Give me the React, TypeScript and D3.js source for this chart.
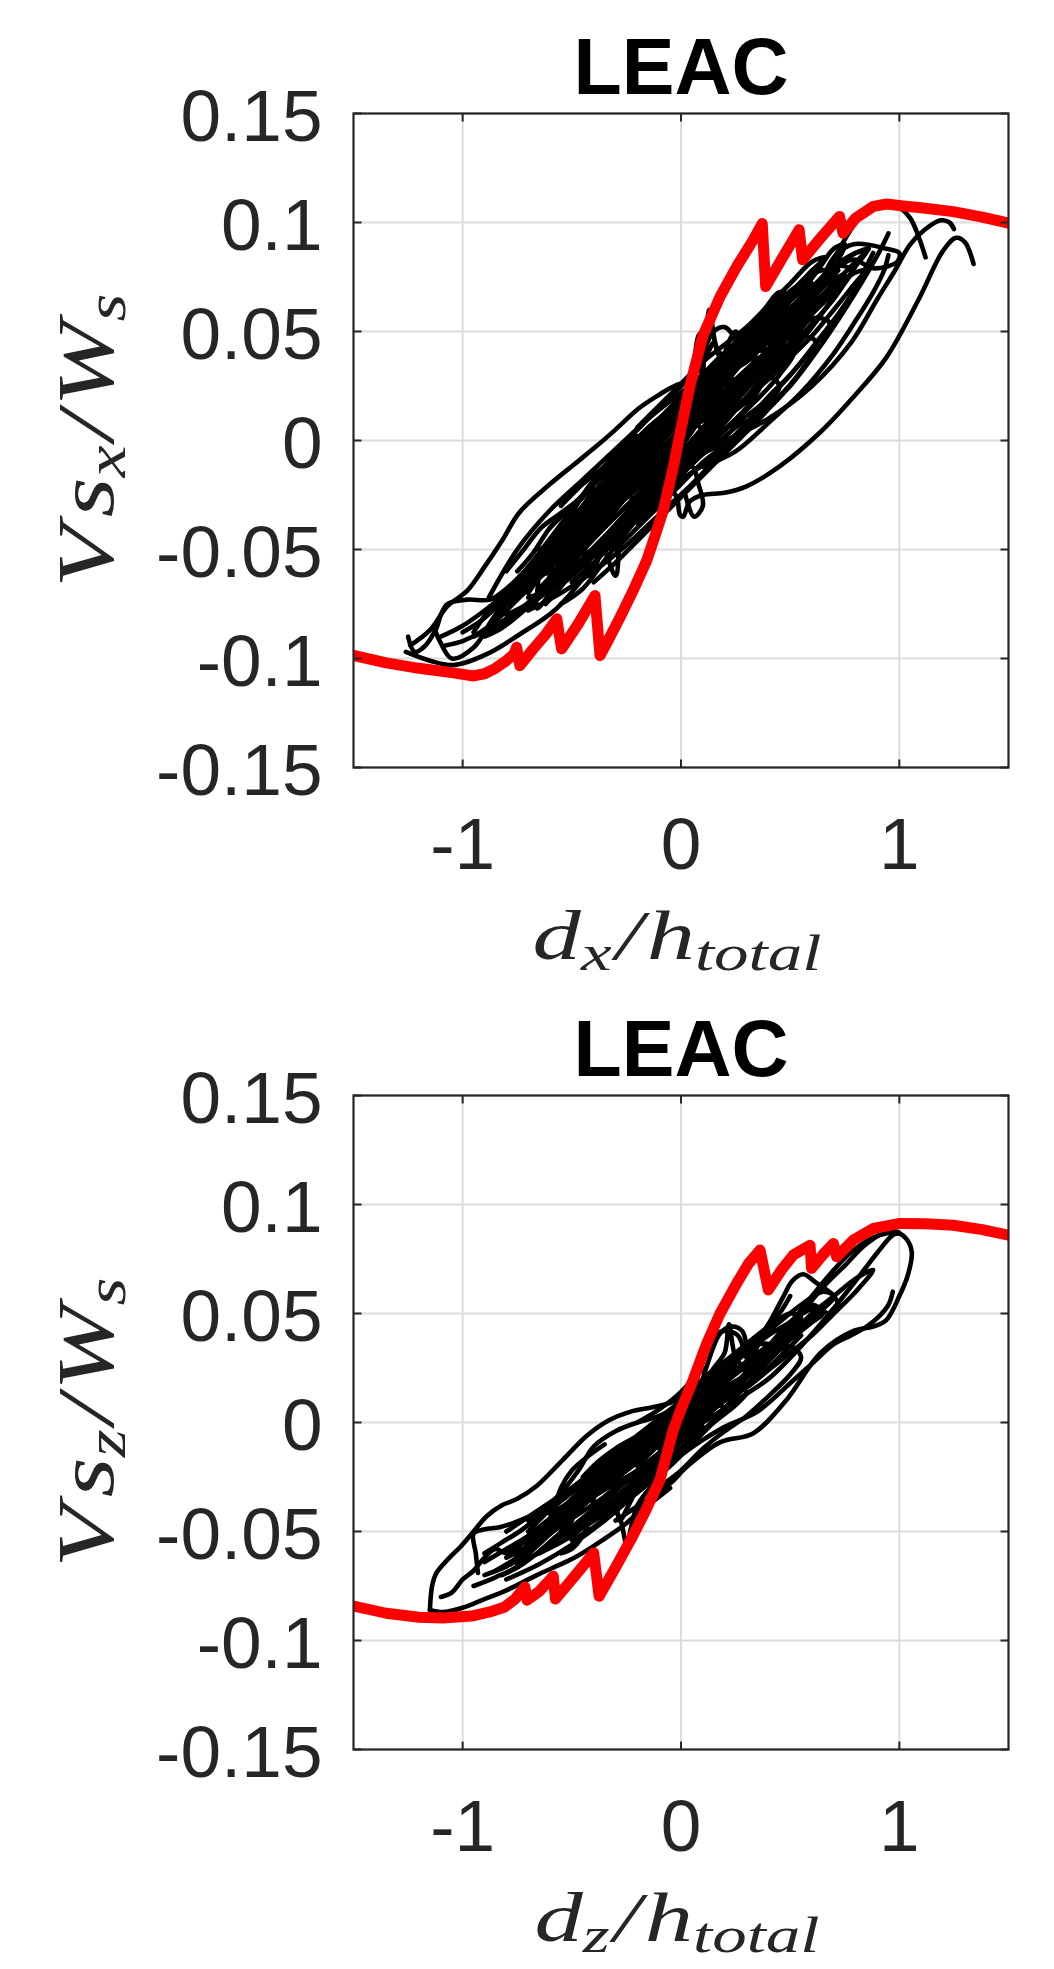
import React from 'react';
import * as d3 from 'd3';

type Pt = [number, number];

// axis setup
const xDomain: [number, number] = [-1.5, 1.5];
const yDomain: [number, number] = [-0.15, 0.15];
const xTicks = [-1, 0, 1];
const yTicks = [-0.15, -0.1, -0.05, 0, 0.05, 0.1, 0.15];
const yTickLabels = ['-0.15', '-0.1', '-0.05', '0', '0.05', '0.1', '0.15'];
const panelTitle = 'LEAC';

// ---- x direction (top panel) ----
const sxBackbone: Pt[] = [
  [-1.5, -0.0986], [-1.35, -0.102], [-1.2, -0.1045], [-1.05, -0.1065], [-0.95, -0.108], [-0.9, -0.107],
  [-0.85, -0.1045], [-0.8, -0.101], [-0.765, -0.098], [-0.753, -0.0948], [-0.738, -0.1033], [-0.68, -0.096],
  [-0.62, -0.089], [-0.569, -0.0818], [-0.547, -0.0956], [-0.47, -0.084], [-0.394, -0.0711], [-0.371, -0.0987],
  [-0.33, -0.091], [-0.279, -0.0811], [-0.22, -0.069], [-0.157, -0.055], [-0.12, -0.044], [-0.081, -0.032],
  [-0.035, -0.0121], [-0.005, 0.003], [0.041, 0.025], [0.1, 0.048], [0.179, 0.066], [0.255, 0.0798],
  [0.331, 0.092], [0.372, 0.0995], [0.388, 0.0706], [0.46, 0.083], [0.541, 0.0967], [0.557, 0.0829],
  [0.64, 0.093], [0.726, 0.1028], [0.742, 0.0951], [0.8, 0.102], [0.881, 0.1074], [0.942, 0.1085],
  [1.018, 0.1076], [1.1, 0.1068], [1.247, 0.105], [1.38, 0.1025], [1.5, 0.0997],
];

const sxLoopA: Pt[] = [
  [-1.24, -0.094], [-1.15, -0.087], [-1.07, -0.076], [-0.98, -0.069], [-0.9, -0.058], [-0.82, -0.046],
  [-0.74, -0.033], [-0.6, -0.02], [-0.49, -0.011], [-0.38, -0.002], [-0.3, 0.005], [-0.19, 0.015],
  [-0.1, 0.021], [-0.03, 0.025], [0.06, 0.028], [0.15, 0.031], [0.3, 0.038], [0.45, 0.05], [0.6, 0.065], [0.72, 0.078],
];
const sxLoopB: Pt[] = [
  [-1.26, -0.097], [-1.15, -0.101], [-1.04, -0.103], [-0.89, -0.098], [-0.74, -0.089], [-0.58, -0.078],
  [-0.43, -0.061], [-0.31, -0.045], [-0.2, -0.033], [-0.13, -0.024], [0.0, -0.013], [0.1, -0.006],
  [0.22, 0.0], [0.35, 0.01], [0.5, 0.025], [0.65, 0.045], [0.8, 0.068], [0.9, 0.085], [0.95, 0.095],
];
const sxLoopC: Pt[] = [
  [-0.2, -0.02], [-0.08, -0.019], [-0.02, -0.026], [-0.005, -0.034], [0.01, -0.035], [0.04, -0.028],
  [0.1, -0.025], [0.2, -0.024], [0.3, -0.021], [0.45, -0.012], [0.64, 0.004], [0.79, 0.02], [0.94, 0.038],
  [1.09, 0.065], [1.2, 0.087], [1.26, 0.093], [1.3, 0.091], [1.34, 0.081],
];
const sxLoopD: Pt[] = [
  [0.2, 0.02], [0.35, 0.035], [0.5, 0.052], [0.62, 0.07], [0.72, 0.087], [0.8, 0.1], [0.88, 0.108],
  [0.95, 0.109], [1.0, 0.107], [1.05, 0.102], [1.09, 0.093], [1.12, 0.084],
];
const sxLoopE: Pt[] = [
  [0.2, 0.0], [0.4, 0.01], [0.6, 0.025], [0.78, 0.045], [0.9, 0.065], [0.98, 0.078], [1.05, 0.09],
  [1.12, 0.097], [1.19, 0.101], [1.23, 0.1], [1.25, 0.097],
];
const sxLoopF: Pt[] = [
  [0.6, 0.062], [0.7, 0.084], [0.79, 0.09], [0.94, 0.088], [1.0, 0.086], [0.99, 0.082], [0.88, 0.079],
  [0.79, 0.083], [0.7, 0.078], [0.62, 0.068],
];
const sxLoopG: Pt[] = [
  [-0.85, -0.085], [-0.7, -0.075], [-0.55, -0.062], [-0.4, -0.045], [-0.25, -0.03], [-0.1, -0.015],
  [0.05, -0.002], [0.2, 0.012], [0.35, 0.03], [0.5, 0.05], [0.6, 0.065], [0.66, 0.078], [0.6, 0.076],
  [0.45, 0.062], [0.3, 0.047], [0.15, 0.033], [0.0, 0.018], [-0.15, 0.003], [-0.3, -0.012], [-0.45, -0.03],
  [-0.6, -0.048], [-0.75, -0.068], [-0.85, -0.082],
];
const sxLoopH: Pt[] = [
  [-0.7, -0.072], [-0.55, -0.066], [-0.42, -0.055], [-0.3, -0.042], [-0.18, -0.028], [-0.05, -0.012],
  [0.1, 0.002], [0.25, 0.018], [0.4, 0.035], [0.48, 0.048], [0.4, 0.05], [0.25, 0.04], [0.1, 0.026],
  [-0.05, 0.012], [-0.2, -0.004], [-0.35, -0.02], [-0.5, -0.04], [-0.62, -0.058], [-0.7, -0.07],
];
const sxLoopI: Pt[] = [
  [-0.62, -0.075], [-0.5, -0.06], [-0.45, -0.045], [-0.42, -0.062], [-0.36, -0.05], [-0.3, -0.062],
  [-0.27, -0.042], [-0.15, -0.025], [0.0, -0.01], [0.12, 0.005], [0.15, 0.03], [0.18, 0.01], [0.3, 0.025],
  [0.4, 0.04], [0.32, 0.045], [0.18, 0.04], [0.13, 0.06], [0.1, 0.035], [0.0, 0.025], [-0.15, 0.01],
  [-0.3, -0.006], [-0.45, -0.025], [-0.55, -0.045], [-0.62, -0.07],
];
const sxLoopJ: Pt[] = [
  [-0.95, -0.09], [-0.8, -0.082], [-0.65, -0.07], [-0.5, -0.055], [-0.35, -0.038], [-0.2, -0.02],
  [-0.05, -0.005], [0.1, 0.01], [0.25, 0.025], [0.38, 0.04], [0.3, 0.042], [0.15, 0.028], [0.0, 0.012],
  [-0.15, -0.005], [-0.3, -0.02], [-0.45, -0.035], [-0.6, -0.05], [-0.75, -0.065], [-0.88, -0.078], [-0.95, -0.088],
];
const sxLoopK: Pt[] = [
  [-0.5, -0.058], [-0.35, -0.048], [-0.2, -0.035], [-0.05, -0.02], [0.08, -0.008], [0.2, 0.005],
  [0.3, 0.015], [0.4, 0.03], [0.55, 0.048], [0.7, 0.065], [0.8, 0.08], [0.85, 0.087], [0.78, 0.085],
  [0.65, 0.072], [0.52, 0.06], [0.4, 0.052], [0.28, 0.045], [0.15, 0.035], [0.0, 0.02], [-0.12, 0.006],
  [-0.25, -0.008], [-0.38, -0.025], [-0.5, -0.045],
];
const sxLoopL: Pt[] = [
  [-1.25, -0.09], [-1.22, -0.097], [-1.18, -0.095], [-1.12, -0.086], [-1.1, -0.08], [-1.07, -0.075],
  [-0.98, -0.073], [-0.875, -0.073], [-0.8, -0.068], [-0.7, -0.058], [-0.6, -0.045], [-0.5, -0.032],
  [-0.4, -0.02], [-0.3, -0.008], [-0.2, 0.002],
];
const sxLoopM: Pt[] = [
  [-1.13, -0.086], [-1.1, -0.093], [-1.05, -0.1], [-0.95, -0.095], [-0.85, -0.08], [-0.75, -0.07],
  [-0.66, -0.062], [-0.66, -0.077], [-0.6, -0.07], [-0.5, -0.057], [-0.4, -0.042], [-0.3, -0.03],
  [-0.2, -0.018], [-0.1, -0.006], [0.0, 0.004], [0.1, 0.015],
];
const sxLoopN: Pt[] = [
  [-0.1, 0.0], [0.0, 0.01], [0.08, 0.02], [0.1, 0.045], [0.12, 0.025], [0.2, 0.03], [0.3, 0.042],
  [0.4, 0.055], [0.5, 0.064], [0.58, 0.072], [0.64, 0.08], [0.7, 0.088], [0.75, 0.09], [0.7, 0.08],
  [0.6, 0.07], [0.5, 0.055], [0.4, 0.04], [0.3, 0.03], [0.2, 0.015], [0.1, 0.005], [0.0, -0.005],
];
const sxLoopO: Pt[] = [
  [-0.3, -0.04], [-0.15, -0.03], [0.0, -0.018], [0.15, -0.008], [0.3, 0.004], [0.45, 0.02], [0.55, 0.032],
  [0.62, 0.045], [0.55, 0.048], [0.45, 0.04], [0.3, 0.028], [0.15, 0.018], [0.0, 0.005], [-0.15, -0.01], [-0.3, -0.028],
];
const sxLoopP: Pt[] = [
  [0.0, 0.02], [0.05, 0.03], [0.08, 0.048], [0.1, 0.05], [0.12, 0.04], [0.15, 0.045], [0.18, 0.038],
  [0.25, 0.04], [0.35, 0.048], [0.45, 0.055], [0.55, 0.06], [0.65, 0.063],
];
const sxLoopQ: Pt[] = [
  [-0.55, -0.075], [-0.45, -0.068], [-0.35, -0.055], [-0.25, -0.042], [-0.15, -0.03], [-0.05, -0.02],
  [0.05, -0.012], [0.08, -0.02], [0.1, -0.03], [0.06, -0.035], [0.02, -0.025],
];
const sxLoopR: Pt[] = [
  [-0.8, -0.08], [-0.65, -0.072], [-0.5, -0.06], [-0.35, -0.045], [-0.2, -0.03], [-0.05, -0.014],
  [0.1, 0.0], [0.22, 0.014], [0.3, 0.026], [0.22, 0.028], [0.1, 0.018], [-0.05, 0.004], [-0.2, -0.01],
  [-0.35, -0.024], [-0.5, -0.04], [-0.65, -0.058], [-0.78, -0.074],
];
const sxLoopS: Pt[] = [
  [-0.6, -0.065], [-0.48, -0.058], [-0.36, -0.05], [-0.24, -0.038], [-0.12, -0.024], [0.0, -0.012],
  [0.12, 0.0], [0.2, 0.01], [0.14, 0.014], [0.02, 0.006], [-0.1, -0.006], [-0.22, -0.018], [-0.34, -0.03],
  [-0.46, -0.044], [-0.58, -0.06],
];
const sxLoopT: Pt[] = [
  [-0.45, -0.052], [-0.35, -0.048], [-0.25, -0.04], [-0.15, -0.03], [-0.05, -0.018], [0.05, -0.006],
  [0.15, 0.008], [0.25, 0.022], [0.35, 0.036], [0.42, 0.046], [0.35, 0.05], [0.25, 0.04], [0.15, 0.03],
  [0.05, 0.02], [-0.05, 0.01], [-0.15, 0.0], [-0.25, -0.012], [-0.35, -0.026], [-0.45, -0.042],
];
const sxLoopU: Pt[] = [
  [-0.7, -0.062], [-0.6, -0.058], [-0.5, -0.05], [-0.4, -0.04], [-0.32, -0.03], [-0.25, -0.022],
  [-0.2, -0.035], [-0.15, -0.028], [-0.05, -0.016], [0.05, -0.004], [0.1, 0.004], [0.05, 0.008],
  [-0.05, -0.002], [-0.15, -0.012], [-0.25, -0.02], [-0.38, -0.03], [-0.5, -0.04], [-0.62, -0.05], [-0.7, -0.058],
];
const sxLoopV: Pt[] = [
  [-0.35, -0.03], [-0.25, -0.024], [-0.15, -0.015], [-0.05, -0.004], [0.05, 0.008], [0.15, 0.02],
  [0.25, 0.032], [0.35, 0.044], [0.45, 0.055], [0.55, 0.066], [0.6, 0.072], [0.52, 0.07], [0.42, 0.06],
  [0.32, 0.05], [0.22, 0.04], [0.12, 0.03], [0.02, 0.018], [-0.08, 0.006], [-0.18, -0.004], [-0.28, -0.015],
];
const sxLoopW: Pt[] = [
  [-0.9, -0.09], [-0.82, -0.086], [-0.72, -0.078], [-0.62, -0.068], [-0.52, -0.058], [-0.45, -0.05],
  [-0.4, -0.06], [-0.37, -0.052], [-0.3, -0.044], [-0.2, -0.03], [-0.1, -0.018], [0.0, -0.006], [0.1, 0.006],
];
const sxLoopX: Pt[] = [
  [0.0, -0.01], [0.1, 0.0], [0.2, 0.01], [0.3, 0.018], [0.4, 0.03], [0.5, 0.04], [0.6, 0.052], [0.7, 0.066],
  [0.78, 0.078], [0.72, 0.08], [0.62, 0.07], [0.52, 0.06], [0.42, 0.05], [0.32, 0.04], [0.22, 0.03],
  [0.12, 0.02], [0.02, 0.01],
];
const sxLoopY: Pt[] = [
  [-0.75, -0.06], [-0.68, -0.052], [-0.6, -0.04], [-0.52, -0.032], [-0.45, -0.026], [-0.38, -0.018],
  [-0.3, -0.01], [-0.2, -0.002], [-0.1, 0.008], [0.0, 0.016], [0.08, 0.022], [0.0, 0.01], [-0.1, 0.0],
  [-0.2, -0.01], [-0.3, -0.02], [-0.42, -0.034], [-0.55, -0.05], [-0.65, -0.062], [-0.75, -0.072],
];
const sxLoopZ: Pt[] = [
  [0.1, 0.02], [0.18, 0.035], [0.25, 0.05], [0.3, 0.04], [0.4, 0.045], [0.5, 0.052], [0.55, 0.06],
  [0.62, 0.07], [0.58, 0.062], [0.5, 0.045], [0.42, 0.035], [0.35, 0.025], [0.25, 0.015], [0.15, 0.005],
];
const sxLoopAA: Pt[] = [
  [0.1, -0.012], [0.25, -0.005], [0.4, 0.008], [0.55, 0.022], [0.7, 0.04], [0.8, 0.055], [0.88, 0.068],
  [0.93, 0.078], [0.95, 0.085],
];
const sxLoopAB: Pt[] = [
  [0.2, 0.005], [0.35, 0.015], [0.5, 0.03], [0.62, 0.045], [0.72, 0.058], [0.8, 0.07], [0.85, 0.08], [0.88, 0.086],
];
const sxLoopAC: Pt[] = [
  [-0.85, -0.078], [-0.72, -0.07], [-0.6, -0.058], [-0.48, -0.047], [-0.36, -0.034], [-0.24, -0.02],
  [-0.12, -0.008], [0.0, 0.004], [0.1, 0.014], [0.02, 0.01], [-0.1, -0.002], [-0.22, -0.016], [-0.34, -0.028],
  [-0.46, -0.04], [-0.58, -0.054], [-0.7, -0.066], [-0.82, -0.076],
];
const sxLoopAD: Pt[] = [
  [-0.65, -0.07], [-0.55, -0.063], [-0.45, -0.054], [-0.35, -0.044], [-0.25, -0.033], [-0.15, -0.022],
  [-0.05, -0.01], [0.05, 0.0], [0.15, 0.012], [0.25, 0.024], [0.2, 0.026], [0.1, 0.016], [0.0, 0.006],
  [-0.1, -0.006], [-0.2, -0.017], [-0.3, -0.028], [-0.4, -0.04], [-0.5, -0.052], [-0.6, -0.064],
];
const sxLoopAE: Pt[] = [
  [-0.55, -0.05], [-0.45, -0.042], [-0.35, -0.033], [-0.25, -0.024], [-0.15, -0.013], [-0.05, -0.002],
  [0.05, 0.01], [0.15, 0.022], [0.25, 0.034], [0.32, 0.042], [0.25, 0.038], [0.15, 0.028], [0.05, 0.017],
  [-0.05, 0.006], [-0.15, -0.005], [-0.25, -0.016], [-0.35, -0.026], [-0.45, -0.036], [-0.55, -0.046],
];
const sxLoopAF: Pt[] = [
  [-0.78, -0.07], [-0.7, -0.064], [-0.62, -0.056], [-0.54, -0.048], [-0.47, -0.04], [-0.4, -0.033],
  [-0.33, -0.026], [-0.26, -0.018], [-0.3, -0.024], [-0.38, -0.032], [-0.46, -0.042], [-0.55, -0.052],
  [-0.64, -0.062], [-0.72, -0.07],
];
const sxLoopAG: Pt[] = [
  [-0.4, -0.035], [-0.3, -0.03], [-0.2, -0.022], [-0.1, -0.012], [0.0, 0.0], [0.1, 0.012], [0.2, 0.022],
  [0.3, 0.032], [0.4, 0.042], [0.5, 0.054], [0.45, 0.058], [0.35, 0.048], [0.25, 0.038], [0.15, 0.026],
  [0.05, 0.014], [-0.05, 0.004], [-0.15, -0.008], [-0.25, -0.018], [-0.35, -0.03],
];
const sxLoopAH: Pt[] = [
  [-0.5, -0.065], [-0.42, -0.058], [-0.34, -0.05], [-0.26, -0.04], [-0.18, -0.03], [-0.1, -0.02],
  [-0.02, -0.01], [0.06, 0.0], [0.14, 0.01], [0.08, 0.008], [0.0, -0.002], [-0.08, -0.012], [-0.16, -0.022],
  [-0.24, -0.032], [-0.32, -0.042], [-0.4, -0.052], [-0.48, -0.06],
];
const sxLoopAI: Pt[] = [
  [-0.2, -0.01], [-0.1, 0.0], [0.0, 0.01], [0.1, 0.02], [0.2, 0.03], [0.3, 0.04], [0.38, 0.05], [0.45, 0.06],
  [0.5, 0.066], [0.45, 0.068], [0.38, 0.06], [0.3, 0.052], [0.2, 0.044], [0.1, 0.036], [0.0, 0.026],
  [-0.1, 0.016], [-0.2, 0.006],
];
const sxLoopAJ: Pt[] = [
  [-1.0, -0.088], [-0.92, -0.083], [-0.84, -0.076], [-0.76, -0.068], [-0.68, -0.06], [-0.6, -0.052],
  [-0.54, -0.045], [-0.6, -0.058], [-0.68, -0.066], [-0.76, -0.074], [-0.84, -0.082], [-0.92, -0.088],
  [-1.0, -0.092], [-1.08, -0.094],
];
const sxLoopAK: Pt[] = [
  [-0.3, -0.05], [-0.2, -0.04], [-0.1, -0.03], [0.0, -0.02], [0.1, -0.01], [0.2, -0.002], [0.3, 0.008],
  [0.4, 0.02], [0.5, 0.03], [0.6, 0.042], [0.68, 0.054], [0.6, 0.056], [0.5, 0.044], [0.4, 0.034],
  [0.3, 0.024], [0.2, 0.014], [0.1, 0.004],
];
const sxLoopAL: Pt[] = [
  [0.0, 0.008], [0.1, 0.022], [0.2, 0.035], [0.28, 0.046], [0.36, 0.056], [0.44, 0.064], [0.52, 0.07],
  [0.6, 0.078], [0.66, 0.084], [0.6, 0.082], [0.5, 0.072], [0.4, 0.062],
];
const sxLoopAM: Pt[] = [
  [-0.9, -0.088], [-0.75, -0.08], [-0.6, -0.068], [-0.45, -0.056], [-0.3, -0.042], [-0.15, -0.028],
  [0.0, -0.014], [0.15, 0.0], [0.3, 0.014], [0.45, 0.03], [0.52, 0.042], [0.45, 0.05], [0.3, 0.044],
  [0.15, 0.034], [0.0, 0.022], [-0.15, 0.01], [-0.3, -0.004], [-0.45, -0.018], [-0.6, -0.032],
  [-0.75, -0.05], [-0.88, -0.072],
];
const sxLoopAN: Pt[] = [
  [-0.7, -0.078], [-0.55, -0.07], [-0.4, -0.06], [-0.25, -0.048], [-0.1, -0.034], [0.05, -0.02],
  [0.2, -0.004], [0.35, 0.012], [0.45, 0.025], [0.38, 0.03], [0.25, 0.022], [0.1, 0.01], [-0.05, -0.004],
  [-0.2, -0.02], [-0.35, -0.036], [-0.5, -0.052], [-0.65, -0.068],
];
const sxLoopAO: Pt[] = [
  [-0.6, -0.04], [-0.5, -0.03], [-0.4, -0.02], [-0.3, -0.01], [-0.2, 0.0], [-0.1, 0.01], [0.0, 0.02],
  [0.1, 0.028], [0.2, 0.036], [0.3, 0.044], [0.2, 0.04], [0.1, 0.03], [0.0, 0.016], [-0.1, 0.004],
  [-0.2, -0.006], [-0.3, -0.016], [-0.4, -0.026], [-0.5, -0.036], [-0.6, -0.046],
];
const sxLoopAP: Pt[] = [
  [-0.55, -0.03], [-0.45, -0.02], [-0.35, -0.012], [-0.25, -0.004], [-0.15, 0.006], [-0.05, 0.014],
  [0.05, 0.022], [0.0, 0.012], [-0.1, 0.002], [-0.2, -0.008], [-0.3, -0.018], [-0.4, -0.028], [-0.5, -0.038],
];
const sxLoopAQ: Pt[] = [
  [-0.8, -0.06], [-0.72, -0.05], [-0.64, -0.04], [-0.56, -0.034], [-0.48, -0.028], [-0.4, -0.022],
  [-0.48, -0.034], [-0.56, -0.044], [-0.64, -0.054], [-0.72, -0.064], [-0.8, -0.074],
];
const sxLoopAR: Pt[] = [
  [-0.4, -0.065], [-0.3, -0.056], [-0.2, -0.046], [-0.1, -0.036], [0.0, -0.026], [0.1, -0.016],
  [0.2, -0.006], [0.3, 0.004], [0.35, 0.01], [0.28, 0.008], [0.18, 0.0], [0.08, -0.008], [-0.02, -0.018],
  [-0.12, -0.028], [-0.22, -0.038], [-0.32, -0.05],
];
const sxLoopAS: Pt[] = [
  [0.0, 0.0], [0.1, 0.01], [0.2, 0.02], [0.3, 0.03], [0.4, 0.04], [0.5, 0.05], [0.6, 0.06], [0.7, 0.07],
  [0.75, 0.076], [0.7, 0.074], [0.6, 0.066], [0.5, 0.058], [0.4, 0.05], [0.3, 0.042], [0.2, 0.034],
  [0.1, 0.024], [0.0, 0.014],
];
const sxLoopAT: Pt[] = [
  [-0.25, -0.02], [-0.15, -0.012], [-0.05, -0.002], [0.05, 0.008], [0.15, 0.018], [0.25, 0.028],
  [0.35, 0.038], [0.25, 0.034], [0.15, 0.024], [0.05, 0.014], [-0.05, 0.004], [-0.15, -0.006], [-0.25, -0.016],
];
const sxLoopAU: Pt[] = [
  [-1.1, -0.09], [-1.0, -0.085], [-0.9, -0.078], [-0.8, -0.07], [-0.7, -0.062], [-0.6, -0.054],
  [-0.5, -0.046], [-0.4, -0.038], [-0.3, -0.03], [-0.2, -0.022],
];
const sxLoopAV: Pt[] = [
  [-0.2, -0.038], [-0.1, -0.028], [0.0, -0.016], [0.1, -0.004], [0.2, 0.008], [0.3, 0.02], [0.4, 0.032],
  [0.5, 0.044], [0.55, 0.05],
];
const sxLoopAW: Pt[] = [
  [0.2, 0.04], [0.3, 0.05], [0.4, 0.058], [0.5, 0.066], [0.55, 0.072], [0.5, 0.064], [0.4, 0.05],
  [0.3, 0.04], [0.2, 0.03],
];
const sxLoopAX: Pt[] = [
  [-0.65, -0.05], [-0.55, -0.045], [-0.45, -0.038], [-0.35, -0.03], [-0.25, -0.02], [-0.15, -0.01],
  [-0.05, 0.0], [0.05, 0.01], [0.12, 0.018], [0.05, 0.004], [-0.05, -0.008], [-0.15, -0.02], [-0.25, -0.03],
  [-0.35, -0.04], [-0.45, -0.05], [-0.55, -0.058], [-0.65, -0.062],
];
const sxLoopAY: Pt[] = [
  [0.1, 0.02], [0.2, 0.03], [0.3, 0.036], [0.4, 0.046], [0.5, 0.058], [0.6, 0.07], [0.7, 0.08],
  [0.8, 0.086], [0.86, 0.088], [0.8, 0.082], [0.7, 0.072], [0.6, 0.062], [0.5, 0.05], [0.4, 0.038],
  [0.3, 0.028], [0.2, 0.018],
];
const sxLoopAZ: Pt[] = [
  [0.3, 0.02], [0.4, 0.028], [0.5, 0.038], [0.6, 0.048], [0.7, 0.06], [0.78, 0.07], [0.84, 0.078],
  [0.78, 0.076], [0.68, 0.066], [0.58, 0.056], [0.48, 0.046], [0.38, 0.036],
];
const sxLoopBA: Pt[] = [
  [0.05, 0.03], [0.1, 0.04], [0.15, 0.05], [0.2, 0.052], [0.25, 0.048], [0.3, 0.05], [0.35, 0.056],
  [0.4, 0.062], [0.45, 0.066],
];
const sxLoops = [
  sxLoopA, sxLoopB, sxLoopC, sxLoopD, sxLoopE, sxLoopF, sxLoopG, sxLoopH, sxLoopI, sxLoopJ,
  sxLoopK, sxLoopL, sxLoopM, sxLoopN, sxLoopO, sxLoopP, sxLoopQ, sxLoopR, sxLoopS, sxLoopT,
  sxLoopU, sxLoopV, sxLoopW, sxLoopX, sxLoopY, sxLoopZ, sxLoopAA, sxLoopAB, sxLoopAC, sxLoopAD,
  sxLoopAE, sxLoopAF, sxLoopAG, sxLoopAH, sxLoopAI, sxLoopAJ, sxLoopAK, sxLoopAL, sxLoopAM, sxLoopAN,
  sxLoopAO, sxLoopAP, sxLoopAQ, sxLoopAR, sxLoopAS, sxLoopAT, sxLoopAU, sxLoopAV, sxLoopAW, sxLoopAX,
  sxLoopAY, sxLoopAZ, sxLoopBA,
];

// ---- z direction (bottom panel) ----
const szBackbone: Pt[] = [
  [-1.5, -0.0842], [-1.35, -0.0875], [-1.2, -0.0893], [-1.09, -0.0897], [-0.96, -0.0888], [-0.88, -0.087],
  [-0.81, -0.0848], [-0.76, -0.081], [-0.715, -0.0755], [-0.705, -0.0815], [-0.65, -0.0775],
  [-0.585, -0.0705], [-0.575, -0.081], [-0.5, -0.072], [-0.45, -0.066], [-0.4, -0.0598], [-0.375, -0.0797],
  [-0.3, -0.0665], [-0.218, -0.0515], [-0.16, -0.04], [-0.096, -0.0262], [-0.035, -0.0033], [0.0, 0.006],
  [0.056, 0.0196], [0.118, 0.0363], [0.179, 0.05], [0.255, 0.0638], [0.31, 0.073], [0.362, 0.0791],
  [0.4, 0.0608], [0.46, 0.07], [0.514, 0.0768], [0.591, 0.0813], [0.598, 0.0707], [0.65, 0.077],
  [0.698, 0.0821], [0.713, 0.076], [0.789, 0.0837], [0.881, 0.089], [1.003, 0.0913], [1.12, 0.0912],
  [1.247, 0.0905], [1.38, 0.0885], [1.5, 0.0859],
];

const szLoopA: Pt[] = [
  [-1.15, -0.086], [-1.14, -0.075], [-1.12, -0.069], [-1.06, -0.062], [-1.01, -0.057], [-0.95, -0.05],
  [-0.89, -0.043], [-0.82, -0.038], [-0.75, -0.035], [-0.66, -0.029], [-0.54, -0.017], [-0.43, -0.006],
  [-0.33, 0.001], [-0.23, 0.005], [-0.13, 0.007], [-0.05, 0.009], [0.0, 0.012], [0.05, 0.018], [0.1, 0.025],
];
const szLoopB: Pt[] = [
  [-1.15, -0.086], [-1.09, -0.087], [-1.0, -0.085], [-0.9, -0.081], [-0.8, -0.077], [-0.66, -0.07],
  [-0.55, -0.065], [-0.47, -0.061], [-0.36, -0.054], [-0.26, -0.047], [-0.18, -0.04], [-0.1, -0.034], [-0.05, -0.03],
];
const szLoopC: Pt[] = [
  [-0.93, -0.069], [-0.94, -0.06], [-0.95, -0.051], [-0.9, -0.049], [-0.83, -0.048], [-0.74, -0.045],
  [-0.62, -0.039], [-0.54, -0.031], [-0.47, -0.022], [-0.4, -0.011], [-0.3, -0.004], [-0.2, 0.0],
  [-0.1, 0.003], [0.0, 0.008],
];
const szLoopD: Pt[] = [
  [-0.3, -0.045], [-0.15, -0.035], [-0.05, -0.028], [0.03, -0.02], [0.18, -0.009], [0.33, -0.005],
  [0.48, 0.01], [0.64, 0.032], [0.79, 0.042], [0.88, 0.044], [0.94, 0.047], [1.0, 0.058], [1.04, 0.068],
  [1.057, 0.078], [1.034, 0.084], [0.99, 0.087], [0.91, 0.086], [0.79, 0.079], [0.7, 0.07], [0.6, 0.058], [0.5, 0.045],
];
const szLoopE: Pt[] = [
  [0.0, -0.005], [0.1, 0.0], [0.25, 0.01], [0.4, 0.02], [0.55, 0.035], [0.68, 0.05], [0.8, 0.065],
  [0.9, 0.078], [0.97, 0.086], [1.0, 0.087], [0.95, 0.088], [0.85, 0.082], [0.75, 0.072], [0.65, 0.062],
  [0.55, 0.05], [0.45, 0.038], [0.35, 0.028],
];
const szLoopF: Pt[] = [
  [0.3, 0.03], [0.4, 0.045], [0.47, 0.058], [0.51, 0.065], [0.56, 0.068], [0.62, 0.064], [0.7, 0.058],
  [0.72, 0.053], [0.68, 0.05], [0.6, 0.054], [0.5, 0.046], [0.4, 0.035],
];
const szLoopG: Pt[] = [
  [0.1, 0.02], [0.15, 0.035], [0.18, 0.041], [0.23, 0.044], [0.28, 0.042], [0.3, 0.035], [0.3, 0.025], [0.28, 0.015],
];
const szLoopH: Pt[] = [
  [-0.8, -0.072], [-0.65, -0.065], [-0.5, -0.056], [-0.35, -0.045], [-0.2, -0.032], [-0.05, -0.018],
  [0.1, -0.004], [0.25, 0.012], [0.4, 0.028], [0.5, 0.04], [0.4, 0.042], [0.25, 0.03], [0.1, 0.015],
  [-0.05, 0.002], [-0.2, -0.01], [-0.35, -0.022], [-0.5, -0.035], [-0.65, -0.05], [-0.78, -0.065],
];
const szLoopI: Pt[] = [
  [-0.65, -0.06], [-0.5, -0.052], [-0.38, -0.042], [-0.25, -0.03], [-0.12, -0.02], [0.0, -0.008],
  [0.12, 0.004], [0.25, 0.018], [0.35, 0.03], [0.28, 0.032], [0.15, 0.022], [0.02, 0.01], [-0.1, -0.002],
  [-0.22, -0.012], [-0.35, -0.024], [-0.48, -0.036], [-0.6, -0.05],
];
const szLoopJ: Pt[] = [
  [-0.55, -0.05], [-0.45, -0.045], [-0.35, -0.035], [-0.28, -0.044], [-0.25, -0.055], [-0.2, -0.038],
  [-0.1, -0.025], [0.0, -0.012], [0.1, 0.0], [0.2, 0.015], [0.15, 0.02], [0.05, 0.01], [-0.05, -0.002],
  [-0.15, -0.012], [-0.25, -0.02], [-0.35, -0.028], [-0.45, -0.038], [-0.55, -0.048],
];
const szLoopK: Pt[] = [
  [-0.45, -0.025], [-0.38, -0.018], [-0.3, -0.012], [-0.2, -0.006], [-0.12, 0.0], [-0.05, 0.005],
  [0.05, 0.012], [0.15, 0.025], [0.2, 0.032], [0.22, 0.045], [0.25, 0.03], [0.3, 0.025], [0.35, 0.035],
  [0.4, 0.045], [0.45, 0.05], [0.5, 0.058],
];
const szLoopL: Pt[] = [
  [-0.2, -0.04], [-0.1, -0.03], [0.0, -0.022], [0.1, -0.012], [0.2, -0.004], [0.3, 0.003], [0.4, 0.012],
  [0.5, 0.022], [0.55, 0.03], [0.5, 0.035], [0.4, 0.03], [0.3, 0.022], [0.2, 0.016], [0.1, 0.008],
  [0.0, 0.0], [-0.1, -0.01], [-0.2, -0.02],
];
const szLoopM: Pt[] = [
  [0.0, -0.015], [0.1, -0.008], [0.2, -0.002], [0.35, 0.005], [0.5, 0.018], [0.6, 0.027], [0.7, 0.036],
  [0.78, 0.04], [0.85, 0.044], [0.9, 0.048], [0.95, 0.054], [0.97, 0.06],
];
const szLoopN: Pt[] = [
  [-1.1, -0.08], [-1.05, -0.078], [-1.0, -0.072], [-0.95, -0.068], [-0.9, -0.062], [-0.85, -0.058],
  [-0.8, -0.06], [-0.75, -0.058], [-0.7, -0.052], [-0.6, -0.045], [-0.5, -0.04],
];
const szLoopO: Pt[] = [
  [-0.95, -0.075], [-0.85, -0.071], [-0.75, -0.066], [-0.65, -0.055], [-0.6, -0.05], [-0.58, -0.04],
  [-0.55, -0.03], [-0.5, -0.022], [-0.42, -0.015], [-0.35, -0.01],
];
const szLoopP: Pt[] = [
  [-0.75, -0.065], [-0.62, -0.058], [-0.5, -0.048], [-0.38, -0.038], [-0.26, -0.028], [-0.14, -0.018],
  [-0.02, -0.006], [0.1, 0.006], [0.18, 0.015], [0.1, 0.016], [-0.02, 0.004], [-0.14, -0.008],
  [-0.26, -0.018], [-0.38, -0.028], [-0.5, -0.038], [-0.62, -0.05], [-0.72, -0.06],
];
const szLoopQ: Pt[] = [
  [-0.6, -0.055], [-0.5, -0.05], [-0.4, -0.044], [-0.3, -0.036], [-0.2, -0.028], [-0.1, -0.018],
  [0.0, -0.006], [0.08, 0.002], [0.0, 0.0], [-0.1, -0.008], [-0.2, -0.018], [-0.3, -0.026], [-0.4, -0.034],
  [-0.5, -0.042], [-0.6, -0.05],
];
const szLoopR: Pt[] = [
  [-0.7, -0.05], [-0.6, -0.04], [-0.5, -0.032], [-0.4, -0.025], [-0.3, -0.018], [-0.22, -0.012],
  [-0.15, -0.006], [-0.05, 0.002], [0.05, 0.01], [0.0, 0.004], [-0.1, -0.006], [-0.2, -0.016],
  [-0.3, -0.024], [-0.42, -0.034], [-0.55, -0.046], [-0.68, -0.058],
];
const szLoopS: Pt[] = [
  [-0.3, -0.03], [-0.2, -0.024], [-0.1, -0.016], [0.0, -0.006], [0.1, 0.004], [0.2, 0.012], [0.28, 0.02],
  [0.35, 0.028], [0.3, 0.032], [0.2, 0.025], [0.1, 0.015], [0.0, 0.006], [-0.1, -0.004], [-0.2, -0.014], [-0.3, -0.024],
];
const szLoopT: Pt[] = [
  [-0.55, -0.06], [-0.5, -0.058], [-0.45, -0.052], [-0.42, -0.045], [-0.4, -0.035], [-0.38, -0.028],
  [-0.33, -0.025], [-0.3, -0.035], [-0.28, -0.045], [-0.25, -0.04], [-0.2, -0.03], [-0.15, -0.022],
];
const szLoopU: Pt[] = [
  [0.05, 0.0], [0.15, 0.008], [0.25, 0.016], [0.35, 0.025], [0.45, 0.035], [0.55, 0.044], [0.65, 0.052],
  [0.7, 0.058], [0.65, 0.06], [0.55, 0.054], [0.45, 0.046], [0.35, 0.038], [0.25, 0.028], [0.15, 0.018],
];
const szLoopV: Pt[] = [
  [-0.2, 0.0], [-0.1, 0.006], [0.0, 0.014], [0.08, 0.024], [0.12, 0.035], [0.15, 0.04], [0.2, 0.042],
  [0.26, 0.04], [0.3, 0.03], [0.35, 0.022], [0.45, 0.03], [0.55, 0.04],
];
const szLoopW: Pt[] = [
  [-0.9, -0.07], [-0.8, -0.066], [-0.7, -0.06], [-0.62, -0.053], [-0.55, -0.046], [-0.48, -0.04],
  [-0.4, -0.034], [-0.3, -0.028], [-0.2, -0.022], [-0.1, -0.014],
];
const szLoopX: Pt[] = [
  [-0.85, -0.068], [-0.75, -0.062], [-0.65, -0.055], [-0.55, -0.047], [-0.45, -0.038], [-0.35, -0.03],
  [-0.25, -0.022], [-0.15, -0.014], [-0.05, -0.004], [0.05, 0.006], [0.0, 0.004], [-0.1, -0.006],
  [-0.2, -0.016], [-0.3, -0.026], [-0.4, -0.034], [-0.5, -0.042], [-0.6, -0.05], [-0.7, -0.058], [-0.8, -0.066],
];
const szLoopY: Pt[] = [
  [-0.6, -0.042], [-0.5, -0.036], [-0.4, -0.03], [-0.3, -0.022], [-0.2, -0.014], [-0.1, -0.006], [0.0, 0.002],
  [0.1, 0.01], [0.2, 0.02], [0.25, 0.026], [0.2, 0.024], [0.1, 0.016], [0.0, 0.008], [-0.1, 0.0],
  [-0.2, -0.008], [-0.3, -0.016], [-0.4, -0.024], [-0.5, -0.032], [-0.6, -0.04],
];
const szLoopZ: Pt[] = [
  [-0.45, -0.048], [-0.38, -0.044], [-0.3, -0.038], [-0.22, -0.032], [-0.14, -0.026], [-0.06, -0.018],
  [0.02, -0.01], [0.1, -0.002], [0.05, -0.004], [-0.03, -0.012], [-0.11, -0.02], [-0.19, -0.028],
  [-0.27, -0.034], [-0.35, -0.04], [-0.43, -0.046],
];
const szLoopAA: Pt[] = [
  [-0.8, -0.06], [-0.72, -0.055], [-0.64, -0.05], [-0.56, -0.044], [-0.48, -0.036], [-0.5, -0.045],
  [-0.58, -0.053], [-0.66, -0.06], [-0.74, -0.066], [-0.82, -0.07],
];
const szLoopAB: Pt[] = [
  [-0.1, -0.012], [0.0, -0.002], [0.1, 0.008], [0.2, 0.018], [0.3, 0.026], [0.4, 0.034], [0.5, 0.042],
  [0.55, 0.048], [0.5, 0.05], [0.4, 0.044], [0.3, 0.036], [0.2, 0.028], [0.1, 0.02], [0.0, 0.01], [-0.1, 0.0],
];
const szLoopAC: Pt[] = [
  [-0.35, -0.042], [-0.25, -0.036], [-0.15, -0.028], [-0.05, -0.02], [0.05, -0.01], [0.15, 0.0],
  [0.25, 0.008], [0.3, 0.014], [0.25, 0.016], [0.15, 0.008], [0.05, 0.0], [-0.05, -0.01], [-0.15, -0.018],
  [-0.25, -0.026], [-0.35, -0.034],
];
const szLoopAD: Pt[] = [
  [-0.8, -0.062], [-0.65, -0.054], [-0.5, -0.044], [-0.35, -0.034], [-0.2, -0.022], [-0.05, -0.01],
  [0.1, 0.002], [0.25, 0.014], [0.35, 0.022], [0.25, 0.024], [0.1, 0.014], [-0.05, 0.002], [-0.2, -0.01],
  [-0.35, -0.02], [-0.5, -0.03], [-0.65, -0.04], [-0.8, -0.05],
];
const szLoopAE: Pt[] = [
  [-0.7, -0.045], [-0.6, -0.038], [-0.5, -0.03], [-0.4, -0.022], [-0.3, -0.014], [-0.2, -0.008],
  [-0.1, -0.002], [0.0, 0.006], [-0.1, -0.01], [-0.2, -0.016], [-0.3, -0.024], [-0.4, -0.032],
  [-0.5, -0.04], [-0.6, -0.048], [-0.7, -0.055],
];
const szLoopAF: Pt[] = [
  [-0.5, -0.054], [-0.4, -0.048], [-0.3, -0.04], [-0.2, -0.032], [-0.1, -0.024], [0.0, -0.014],
  [0.1, -0.004], [0.2, 0.006], [0.15, 0.008], [0.05, -0.002], [-0.05, -0.012], [-0.15, -0.022],
  [-0.25, -0.03], [-0.35, -0.038], [-0.45, -0.046],
];
const szLoopAG: Pt[] = [
  [-0.9, -0.06], [-0.82, -0.055], [-0.74, -0.05], [-0.66, -0.044], [-0.58, -0.038], [-0.5, -0.032],
  [-0.42, -0.026], [-0.5, -0.036], [-0.6, -0.044], [-0.7, -0.052], [-0.8, -0.058], [-0.9, -0.064],
];
const szLoopAH: Pt[] = [
  [-0.2, -0.01], [-0.1, -0.004], [0.0, 0.004], [0.1, 0.012], [0.2, 0.02], [0.3, 0.028], [0.4, 0.036],
  [0.3, 0.034], [0.2, 0.026], [0.1, 0.018], [0.0, 0.01], [-0.1, 0.002], [-0.2, -0.006],
];
const szLoopAI: Pt[] = [
  [-0.4, -0.02], [-0.3, -0.016], [-0.2, -0.01], [-0.1, -0.004], [0.0, 0.002], [-0.1, -0.008],
  [-0.2, -0.016], [-0.3, -0.022], [-0.4, -0.028],
];
const szLoopAJ: Pt[] = [
  [0.1, 0.006], [0.2, 0.014], [0.3, 0.022], [0.4, 0.03], [0.5, 0.038], [0.6, 0.046], [0.65, 0.05],
  [0.6, 0.052], [0.5, 0.046], [0.4, 0.04], [0.3, 0.032], [0.2, 0.024],
];
const szLoopAK: Pt[] = [
  [-0.65, -0.048], [-0.55, -0.042], [-0.45, -0.034], [-0.35, -0.026], [-0.25, -0.018], [-0.15, -0.01],
  [-0.05, -0.002], [0.05, 0.006], [-0.05, -0.006], [-0.15, -0.014], [-0.25, -0.022], [-0.35, -0.03],
  [-0.45, -0.038], [-0.55, -0.046], [-0.65, -0.054],
];
const szLoopAL: Pt[] = [
  [-0.55, -0.04], [-0.45, -0.032], [-0.35, -0.024], [-0.25, -0.016], [-0.15, -0.008], [-0.05, 0.0],
  [-0.15, -0.012], [-0.25, -0.02], [-0.35, -0.028], [-0.45, -0.036], [-0.55, -0.044],
];
const szLoopAM: Pt[] = [
  [0.2, 0.01], [0.3, 0.016], [0.4, 0.024], [0.5, 0.032], [0.6, 0.04], [0.7, 0.05], [0.8, 0.06],
  [0.88, 0.07], [0.8, 0.066], [0.7, 0.058], [0.6, 0.05], [0.5, 0.04], [0.4, 0.032], [0.3, 0.024],
];
const szLoops = [
  szLoopA, szLoopB, szLoopC, szLoopD, szLoopE, szLoopF, szLoopG, szLoopH, szLoopI, szLoopJ, szLoopK,
  szLoopL, szLoopM, szLoopN, szLoopO, szLoopP, szLoopQ, szLoopR, szLoopS, szLoopT, szLoopU, szLoopV,
  szLoopW, szLoopX, szLoopY, szLoopZ, szLoopAA, szLoopAB, szLoopAC, szLoopAD, szLoopAE, szLoopAF,
  szLoopAG, szLoopAH, szLoopAI, szLoopAJ, szLoopAK, szLoopAL, szLoopAM,
];

const W = 1054;
const H = 1969;
const plotLeft = 353.5;
const plotRight = 1008.5;
const plotH = 654;
const axisColor = '#262626';

type PanelProps = {
  id: string;
  top: number;
  loops: Pt[][];
  backbone: Pt[];
  dir: string;
};

function Panel({ id, top, loops, backbone, dir }: PanelProps) {
  const x = d3.scaleLinear().domain(xDomain).range([plotLeft, plotRight]);
  const y = d3.scaleLinear().domain(yDomain).range([top + plotH, top]);
  const smooth = d3.line<Pt>().x(d => x(d[0])).y(d => y(d[1])).curve(d3.curveCatmullRom.alpha(0.5));
  const sharp = d3.line<Pt>().x(d => x(d[0])).y(d => y(d[1]));
  const bottom = top + plotH;
  const tickLen = 8;
  const cx = (plotLeft + plotRight) / 2;
  const cy = top + plotH / 2;

  return (
    <g>
      <defs>
        <clipPath id={id}>
          <rect x={plotLeft} y={top} width={plotRight - plotLeft} height={plotH} />
        </clipPath>
      </defs>
      <rect x={plotLeft} y={top} width={plotRight - plotLeft} height={plotH} fill="#fff" />
      {xTicks.map(t => (
        <line key={'gx' + t} x1={x(t)} x2={x(t)} y1={top} y2={bottom} stroke="#dcdcdc" strokeWidth={2} />
      ))}
      {yTicks.map(t => (
        <line key={'gy' + t} x1={plotLeft} x2={plotRight} y1={y(t)} y2={y(t)} stroke="#dcdcdc" strokeWidth={2} />
      ))}
      <g clipPath={`url(#${id})`}>
        {loops.map((l, i) => (
          <path key={i} d={smooth(l) || ''}
            style={{ fill: 'none', stroke: '#000', strokeWidth: '4.6px', strokeLinejoin: 'round', strokeLinecap: 'round' }} />
        ))}
        <path d={sharp(backbone) || ''}
          style={{ fill: 'none', stroke: '#ff0000', strokeWidth: '11px', strokeLinejoin: 'round', strokeLinecap: 'round' }} />
      </g>
      <rect x={plotLeft} y={top} width={plotRight - plotLeft} height={plotH} fill="none"
        stroke={axisColor} strokeWidth={2.2} />
      {xTicks.map(t => (
        <g key={'tx' + t}>
          <line x1={x(t)} x2={x(t)} y1={bottom} y2={bottom - tickLen} stroke={axisColor} strokeWidth={2} />
          <line x1={x(t)} x2={x(t)} y1={top} y2={top + tickLen} stroke={axisColor} strokeWidth={2} />
          <text x={x(t)} y={bottom + 101} textAnchor="middle" fontFamily="'Liberation Sans', Arial, sans-serif"
            fontSize={73} fill={axisColor}>{t}</text>
        </g>
      ))}
      {yTicks.map((t, i) => (
        <g key={'ty' + t}>
          <line x1={plotLeft} x2={plotLeft + tickLen} y1={y(t)} y2={y(t)} stroke={axisColor} strokeWidth={2} />
          <line x1={plotRight} x2={plotRight - tickLen} y1={y(t)} y2={y(t)} stroke={axisColor} strokeWidth={2} />
          <text x={plotLeft - 31} y={y(t)} dy="0.38em" textAnchor="end"
            fontFamily="'Liberation Sans', Arial, sans-serif" fontSize={73} fill={axisColor}>{yTickLabels[i]}</text>
        </g>
      ))}
      <text x={cx} y={top - 20} textAnchor="middle" fontFamily="'Liberation Sans', Arial, sans-serif"
        fontWeight="bold" fontSize={79} fill="#000">{panelTitle}</text>
      <g transform={`translate(${cx - 4}, ${bottom + 191}) scale(1.38, 1)`}>
        <text textAnchor="middle" fontFamily="'Liberation Serif', 'Times New Roman', serif" fontStyle="italic"
          fontSize={70} fill={axisColor}>
          <tspan>d</tspan>
          <tspan fontSize={50} dy={11}>{dir}</tspan>
          <tspan dy={-11} dx={3}>/</tspan>
          <tspan dx={3}>h</tspan>
          <tspan fontSize={50} dy={11}>total</tspan>
        </text>
      </g>
      <g transform={`translate(113, ${cy}) rotate(-90) scale(1.28, 1)`}>
        <text textAnchor="middle" fontFamily="'Liberation Serif', 'Times New Roman', serif" fontStyle="italic"
          fontSize={80} fill={axisColor}>
          <tspan>V</tspan>
          <tspan dx={6}>s</tspan>
          <tspan fontSize={56} dy={12}>{dir}</tspan>
          <tspan dy={-12} dx={4}>/</tspan>
          <tspan dx={4}>W</tspan>
          <tspan fontSize={56} dy={12}>s</tspan>
        </text>
      </g>
    </g>
  );
}

export default function App() {
  return (
    <svg width={W} height={H} viewBox={`0 0 ${W} ${H}`}
      style={{ position: 'absolute', left: 0, top: 0, background: '#fff' }}>
      <rect x={0} y={0} width={W} height={H} fill="#fff" />
      <Panel id="clipX" top={113.5} loops={sxLoops} backbone={sxBackbone} dir="x" />
      <Panel id="clipZ" top={1095.5} loops={szLoops} backbone={szBackbone} dir="z" />
    </svg>
  );
}
